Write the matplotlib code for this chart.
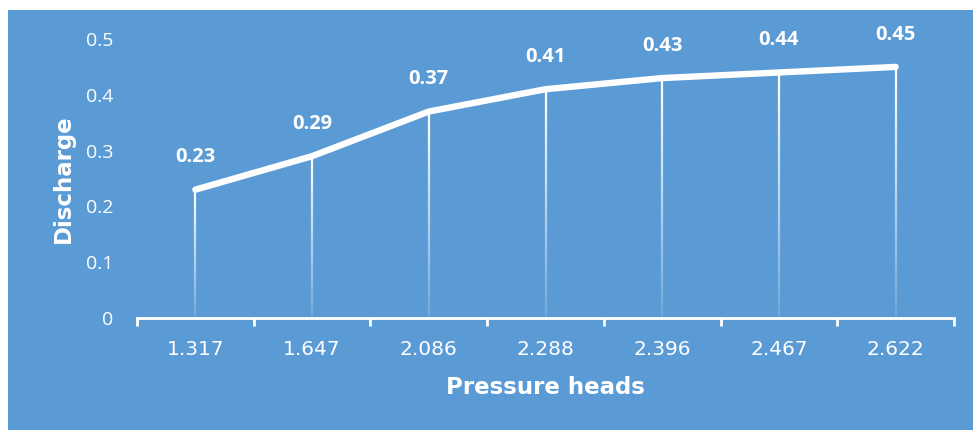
import numpy as np
import matplotlib.pyplot as plt
from matplotlib.collections import LineCollection
from matplotlib.patches import Rectangle

# chart data
pressure_heads = ['1.317', '1.647', '2.086', '2.288', '2.396', '2.467', '2.622']
discharge = [0.23, 0.29, 0.37, 0.41, 0.43, 0.44, 0.45]

BLUE = '#5B9BD5'

fig = plt.figure(figsize=(9.73, 4.30), dpi=100, facecolor='white')
# blue panel behind everything (small white margin top/left)
fig.patches.append(Rectangle((8 / 973, 0), 1 - 8 / 973, 1 - 10 / 430,
                             transform=fig.transFigure, facecolor=BLUE,
                             edgecolor='none', zorder=-10))

ax = fig.add_axes([137 / 973, 1 - 318 / 430, (954 - 137) / 973, (318 - 39) / 430])
ax.set_facecolor('none')

x = np.arange(len(pressure_heads))

# drop lines fading from white (top) to transparent (bottom)
n = 40
for xi, yi in zip(x, discharge):
    ys = np.linspace(0, yi, n + 1)
    segs = [[(xi, ys[k]), (xi, ys[k + 1])] for k in range(n)]
    alphas = np.linspace(0.1, 1.0, n) ** 0.9
    cols = [(1, 1, 1, a) for a in alphas]
    ax.add_collection(LineCollection(segs, colors=cols, linewidths=1.6, zorder=2))

ax.plot(x, discharge, color='white', lw=4.6, solid_capstyle='round',
        solid_joinstyle='round', zorder=3)

for xi, yi in zip(x, discharge):
    ax.annotate(f'{yi:.2f}', (xi, yi), xytext=(0, 16), textcoords='offset points',
                ha='center', va='bottom', color='white', fontsize=14.5,
                fontweight='bold', family='Open Sans')

ax.set_xlim(-0.5, len(x) - 0.5)
ax.set_ylim(0, 0.5)
ax.set_yticks(np.arange(0, 0.51, 0.1))
ax.set_yticklabels(['0', '0.1', '0.2', '0.3', '0.4', '0.5'])
ax.set_xticks(x)
ax.set_xticklabels(pressure_heads)
ax.set_xticks(np.arange(-0.5, len(x), 1.0), minor=True)

for s in ['top', 'right', 'left']:
    ax.spines[s].set_visible(False)
ax.spines['bottom'].set_color('white')
ax.spines['bottom'].set_linewidth(2)

ax.tick_params(axis='x', which='major', length=0, pad=16, labelcolor='white',
               labelsize=14.5)
ax.tick_params(axis='x', which='minor', length=6, width=2, color='white',
               direction='out')
ax.tick_params(axis='y', length=0, pad=17, labelcolor='white', labelsize=14)
for lab in ax.get_xticklabels():
    lab.set_family('DejaVu Sans')
for lab in ax.get_yticklabels():
    lab.set_family('Open Sans')

ax.set_xlabel('Pressure heads', color='white', fontsize=16.5, fontweight='bold',
              family='DejaVu Sans', labelpad=12)
ax.set_ylabel('Discharge', color='white', fontsize=16.5, fontweight='bold',
              family='DejaVu Sans', labelpad=8)

fig.savefig('out.png', dpi=100, facecolor='white')
